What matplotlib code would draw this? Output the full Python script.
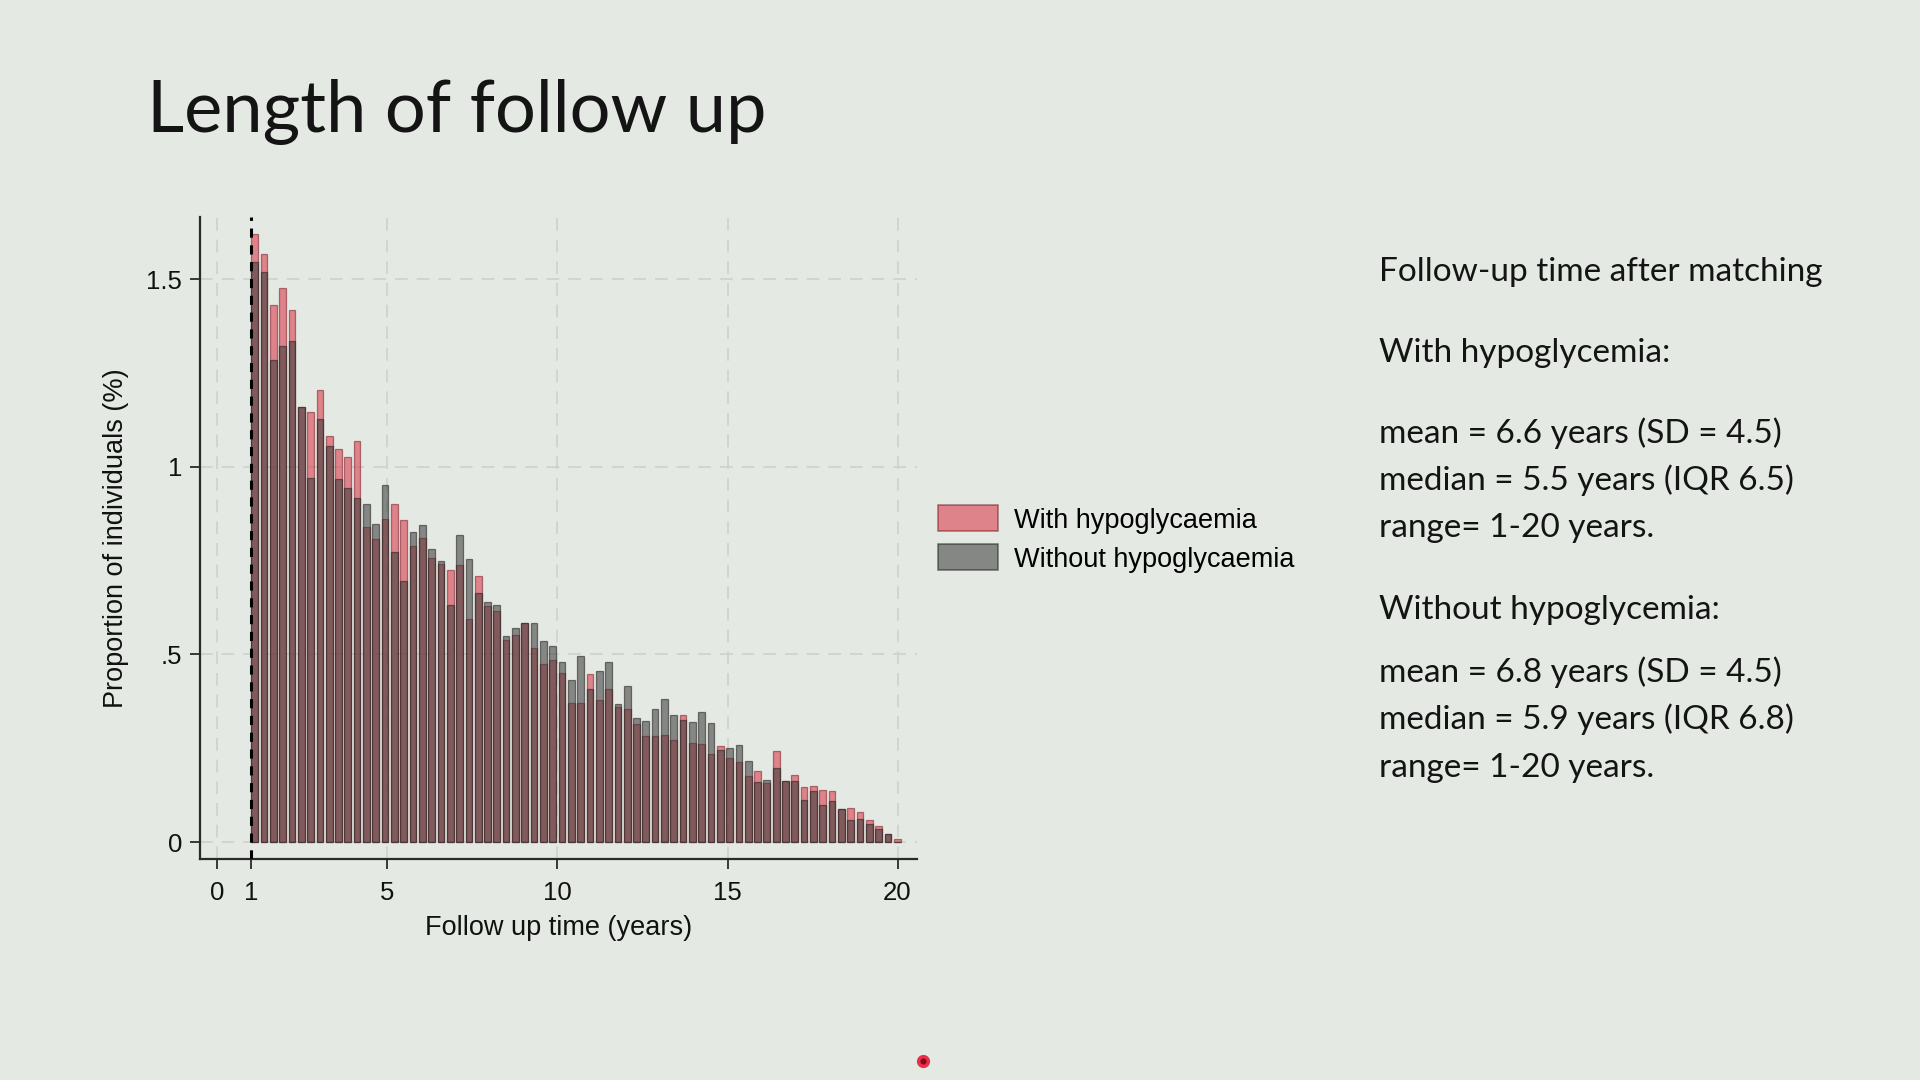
import numpy as np
import matplotlib
matplotlib.use("Agg")
import matplotlib.pyplot as plt
from matplotlib.patches import Patch
from matplotlib.lines import Line2D

# bar heights (% of individuals) per 100-day bin, starting at 1 year
with_hypo = [1.620, 1.567, 1.430, 1.475, 1.417, 1.159, 1.147, 1.204, 1.083, 1.047,
             1.025, 1.068, 0.840, 0.807, 0.862, 0.902, 0.857, 0.790, 0.811, 0.757,
             0.741, 0.725, 0.737, 0.595, 0.710, 0.630, 0.615, 0.538, 0.551, 0.585,
             0.517, 0.474, 0.485, 0.450, 0.370, 0.370, 0.447, 0.378, 0.409, 0.359,
             0.355, 0.314, 0.282, 0.282, 0.284, 0.273, 0.338, 0.264, 0.261, 0.234,
             0.256, 0.223, 0.213, 0.176, 0.190, 0.157, 0.243, 0.163, 0.179, 0.146,
             0.149, 0.140, 0.137, 0.089, 0.092, 0.081, 0.058, 0.043, 0.021, 0.008]
without_hypo = [1.544, 1.520, 1.285, 1.322, 1.336, 1.159, 0.970, 1.126, 1.055, 0.966,
                0.943, 0.917, 0.902, 0.848, 0.952, 0.772, 0.695, 0.825, 0.846, 0.780,
                0.749, 0.632, 0.819, 0.754, 0.663, 0.639, 0.632, 0.550, 0.571, 0.583,
                0.585, 0.537, 0.523, 0.480, 0.432, 0.496, 0.408, 0.456, 0.481, 0.369,
                0.417, 0.331, 0.322, 0.354, 0.381, 0.338, 0.325, 0.319, 0.346, 0.316,
                0.245, 0.251, 0.260, 0.217, 0.160, 0.165, 0.198, 0.163, 0.163, 0.113,
                0.136, 0.098, 0.109, 0.089, 0.059, 0.062, 0.049, 0.034, 0.021, 0.0]
bin_start = 1.0
bin_width = 100 / 365.25
xticks = [0, 1, 5, 10, 15, 20]
yticks = [0, 0.5, 1, 1.5]
yticklabels = ['0', '.5', '1', '1.5']
legend_labels = ['With hypoglycaemia', 'Without hypoglycaemia']

title = 'Length of follow up'
side_lines = [
    ('Follow-up time after matching', 281),
    ('With hypoglycemia:', 362),
    ('mean = 6.6 years (SD = 4.5)', 443),
    ('median = 5.5 years (IQR 6.5)', 490),
    ('range= 1-20 years.', 537),
    ('Without hypoglycemia:', 619),
    ('mean = 6.8 years (SD = 4.5)', 682),
    ('median = 5.9 years (IQR 6.8)', 729),
    ('range= 1-20 years.', 777),
]

bg = '#e4e9e3'
red = '#d9303f'
grey = '#3a3a3a'
W, H = 1920, 1080

fig = plt.figure(figsize=(19.2, 10.8), dpi=100, facecolor=bg)
ax = fig.add_axes([200 / W, 1 - 859 / H, 716.6 / W, 642.3 / H])
ax.set_facecolor(bg)

lefts = bin_start + np.arange(len(with_hypo)) * bin_width
bw = bin_width * 0.72
ax.bar(lefts, with_hypo, width=bw, align='edge', color=red, alpha=0.55,
       edgecolor='#7a1a24', linewidth=0.9, zorder=2)
ax.bar(lefts, without_hypo, width=bw, align='edge', color=grey, alpha=0.56,
       edgecolor='#202020', linewidth=0.9, zorder=3)

ax.axvline(1, color='black', lw=2.2, ls=(0, (3, 2.5)), zorder=4)

ax.set_xlim(-0.51, 20.56)
ax.set_ylim(-0.045, 1.666)
ax.set_xticks(xticks)
ax.set_yticks(yticks)
ax.set_yticklabels(yticklabels)

for g in [0, 5, 10, 15, 20]:
    ax.axvline(g, color='#cfd3cd', lw=1.3, ls=(0, (7, 5)), zorder=1)
for g in yticks:
    ax.axhline(g, color='#cfd3cd', lw=1.3, ls=(0, (7, 5)), zorder=1)

for s in ['top', 'right']:
    ax.spines[s].set_visible(False)
for s in ['left', 'bottom']:
    ax.spines[s].set_color('#2a2a2a')
    ax.spines[s].set_linewidth(1.6)

tick_font = 'Liberation Sans'
ax.tick_params(axis='x', length=7, width=1.3, pad=9, labelsize=18.5, colors='#2a2a2a')
ax.tick_params(axis='y', length=7, width=1.3, pad=6, labelsize=18.5, colors='#2a2a2a')
for lab in ax.get_xticklabels() + ax.get_yticklabels():
    lab.set_fontfamily(tick_font)
    lab.set_color('#111111')

ax.set_xlabel('Follow up time (years)', fontsize=19.5, family=tick_font, color='#111111', labelpad=7)
ax.set_ylabel('Proportion of individuals (%)', fontsize=19.5, family=tick_font, color='#111111', labelpad=12)

handles = [Patch(facecolor=red, alpha=0.55, edgecolor='#7a1a24', lw=1.2),
           Patch(facecolor=grey, alpha=0.56, edgecolor='#202020', lw=1.2)]
fig.legend(handles, legend_labels, loc='upper left', bbox_to_anchor=(914 / W, 1 - 481 / H),
           frameon=False, prop={'family': tick_font, 'size': 19.5},
           handlelength=2.2, handleheight=1.1, labelspacing=0.4, handletextpad=0.6)

fig.text(147 / W, 1 - 132 / H, title, fontsize=52, family='Lato', fontweight='normal',
         color='#141414', va='baseline', ha='left')

for txt, yb in side_lines:
    fig.text(1379 / W, 1 - yb / H, txt, fontsize=24, family='Lato', color='#141414',
             va='baseline', ha='left')

# pointer dot
fig.add_artist(Line2D([923 / W], [1 - 1061 / H], marker='o', markersize=7,
                      markerfacecolor='#8b0a1a', markeredgecolor='#e8304a',
                      markeredgewidth=2.5, transform=fig.transFigure))

fig.savefig('out.png', dpi=100, facecolor=bg)
